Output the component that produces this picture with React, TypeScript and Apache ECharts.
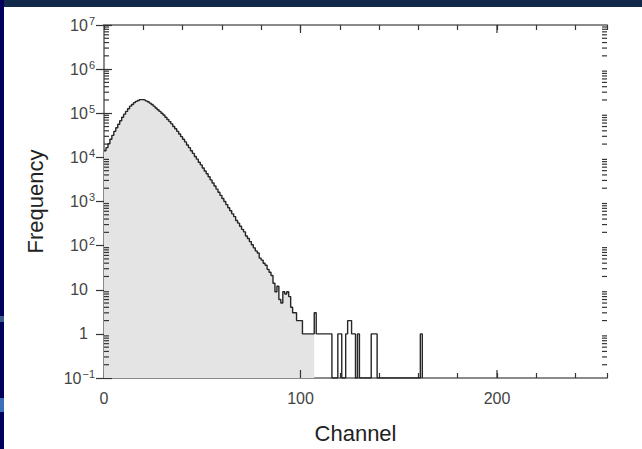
import React, { useEffect, useRef } from "react";
import * as echarts from "echarts";

// Histogram counts per channel (channel index = array index)
const COUNTS: number[] = [
  14100, 16600, 20400, 25700, 31600, 38900, 46800, 56200, 67600, 81300,
  95500, 110000, 126000, 145000, 158000, 174000, 186000, 195000, 204000, 204000,
  200000, 191000, 182000, 170000, 158000, 145000, 132000, 120000, 110000, 100000,
  91200, 81300, 72400, 64600, 57500, 50100, 44700, 38900, 33900, 29500,
  25700, 22400, 19100, 16600, 14100, 12300, 10500, 9120, 7760, 6760,
  5750, 4900, 4270, 3630, 3090, 2630, 2240, 1910, 1620, 1380,
  1170, 1000, 851, 724, 617, 525, 455, 370, 324, 275,
  234, 205, 165, 145, 123, 105, 89, 76, 68, 52,
  47, 40, 36, 29, 25, 21, 14, 9, 12, 6,
  5, 9, 8, 9, 7, 4, 3, 3, 2, 2,
  2, 1, 1, 1, 1, 1, 1, 3, 1, 1,
  1, 1, 1, 1, 1, 1, 0, 0, 0, 1,
  1, 0, 0, 1, 2, 2, 1, 1, 0, 1,
  0, 0, 0, 0, 0, 0, 1, 1, 1, 0,
  0, 0, 0, 0, 0, 0, 0, 0, 0, 0,
  0, 0, 0, 0, 0, 0, 0, 0, 0, 0,
  0, 1, 0,
];
// Last channel of the shaded (filled) part of the histogram
const FILL_END = 107;

const X_MIN = 0;
const X_MAX = 256;
const X_TICK_STEP = 20;
const X_LABELS = [0, 100, 200];
const Y_MIN = 0.1;
const Y_MAX = 1e7;
const X_TITLE = "Channel";
const Y_TITLE = "Frequency";

const FONT = "'Liberation Sans', Arial, Helvetica, sans-serif";
const TEXT = "#444";
const TICK = "#333";

export default function App() {
  const ref = useRef<HTMLDivElement>(null);

  useEffect(() => {
    if (!ref.current) return;
    const chart = echarts.init(ref.current, undefined, { renderer: "svg" });

    const stepData = COUNTS.map((c, i) => [i, c > 0 ? c : Y_MIN]);
    const fillData = stepData.slice(0, FILL_END + 1);

    // log minor ticks 2..9 within each decade, on left (dir 1) and right (dir -1) frame sides
    const minor: number[][] = [];
    for (let e = Math.round(Math.log10(Y_MIN)); e < Math.round(Math.log10(Y_MAX)); e++) {
      for (let m = 2; m <= 9; m++) {
        const v = m * Math.pow(10, e);
        minor.push([X_MIN, v, 1]);
        minor.push([X_MAX, v, -1]);
      }
    }
    // longer x ticks at the labelled values, bottom (dir -1) and top (dir 1)
    const xMajor: number[][] = [];
    X_LABELS.filter((v) => v > X_MIN).forEach((v) => {
      xMajor.push([v, Y_MIN, -1]);
      xMajor.push([v, Y_MAX, 1]);
    });

    const yLabel = (v: number) => {
      const e = Math.round(Math.log10(v));
      if (e === 0) return "{b|1}{sp| }";
      if (e === 1) return "{b|10}{sp| }";
      const s = e < 0 ? "\u2212" + String(-e) : String(e);
      return "{b|10}{s|" + s + "}";
    };

    const rich = {
      b: { fontSize: 16, color: TEXT, fontFamily: FONT },
      s: { fontSize: 11, color: TEXT, fontFamily: FONT, padding: [0, 0, 9, 1] },
      sp: { width: 7, fontSize: 11 },
    };

    const axisLine = { show: true, lineStyle: { color: "#8a8a8a", width: 2 } };
    const tick = (len: number) => ({
      show: true,
      inside: true,
      length: len,
      lineStyle: { color: TICK, width: 1.2 },
    });

    chart.setOption({
      animation: false,
      backgroundColor: "#ffffff",
      grid: { left: 104, right: 35, top: 25, bottom: 65 },
      graphic: [
        { type: "rect", shape: { x: 0, y: 0, width: 642, height: 7 }, style: { fill: "#13294b" } },
        { type: "rect", shape: { x: 0, y: 0, width: 4, height: 449 }, style: { fill: "#00005c" } },
        { type: "rect", shape: { x: 0, y: 316, width: 4, height: 6 }, style: { fill: "#3c5b8a" } },
        { type: "rect", shape: { x: 0, y: 398, width: 4, height: 14 }, style: { fill: "#3b6fb8" } },
      ],
      xAxis: [
        {
          type: "value",
          min: X_MIN,
          max: X_MAX,
          interval: X_TICK_STEP,
          position: "bottom",
          axisLine,
          axisTick: tick(5),
          splitLine: { show: false },
          axisLabel: {
            show: true,
            margin: 12,
            fontSize: 16,
            color: TEXT,
            fontFamily: FONT,
            formatter: (v: number) => (X_LABELS.includes(v) ? String(v) : ""),
          },
          name: X_TITLE,
          nameLocation: "middle",
          nameGap: 44,
          nameTextStyle: { fontSize: 22, color: "#222", fontFamily: FONT },
        },
        {
          type: "value",
          min: X_MIN,
          max: X_MAX,
          interval: X_TICK_STEP,
          position: "top",
          axisLine,
          axisTick: tick(5),
          splitLine: { show: false },
          axisLabel: { show: false },
        },
      ],
      yAxis: [
        {
          type: "log",
          logBase: 10,
          min: Y_MIN,
          max: Y_MAX,
          splitNumber: 8,
          position: "left",
          axisLine,
          axisTick: tick(8),
          splitLine: { show: false },
          axisLabel: { show: true, margin: 9, formatter: yLabel, rich, color: TEXT },
          name: Y_TITLE,
          nameLocation: "middle",
          nameGap: 58,
          nameTextStyle: { fontSize: 22, color: "#222", fontFamily: FONT },
        },
        {
          type: "log",
          logBase: 10,
          min: Y_MIN,
          max: Y_MAX,
          splitNumber: 8,
          position: "right",
          axisLine,
          axisTick: tick(8),
          splitLine: { show: false },
          axisLabel: { show: false },
        },
      ],
      series: [
        {
          type: "line",
          step: "end",
          data: fillData,
          symbol: "none",
          lineStyle: { opacity: 0, width: 0 },
          areaStyle: { color: "#e4e4e4", opacity: 1, origin: "start" },
          z: 1,
          silent: true,
        },
        {
          type: "line",
          step: "end",
          data: stepData,
          symbol: "none",
          lineStyle: { color: "#262626", width: 1.4 },
          z: 3,
          silent: true,
        },
        {
          type: "custom",
          data: minor,
          silent: true,
          z: 5,
          clip: false,
          renderItem: (_p: any, api: any) => {
            const p = api.coord([api.value(0), api.value(1)]);
            const d = api.value(2);
            return {
              type: "line",
              shape: { x1: p[0], y1: p[1], x2: p[0] + 5 * d, y2: p[1] },
              style: { stroke: TICK, lineWidth: 1.2 },
            };
          },
        },
        {
          type: "custom",
          data: xMajor,
          silent: true,
          z: 5,
          clip: false,
          renderItem: (_p: any, api: any) => {
            const p = api.coord([api.value(0), api.value(1)]);
            const d = api.value(2);
            return {
              type: "line",
              shape: { x1: p[0], y1: p[1], x2: p[0], y2: p[1] + 8 * d },
              style: { stroke: TICK, lineWidth: 1.2 },
            };
          },
        },
      ],
    });

    return () => chart.dispose();
  }, []);

  return (
    <div
      ref={ref}
      style={{ position: "absolute", left: 0, top: 0, width: 642, height: 449, background: "#fff" }}
    />
  );
}
